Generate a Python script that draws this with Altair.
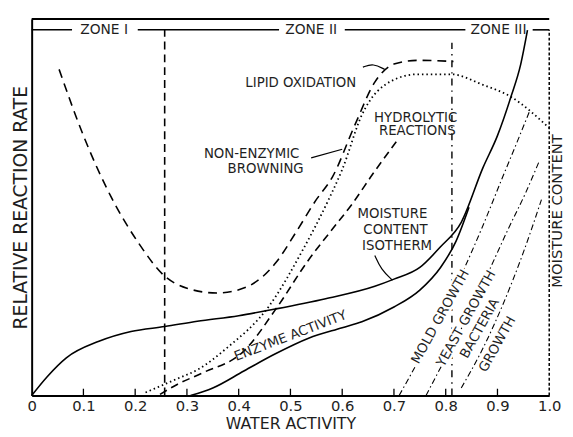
import altair as alt
import pandas as pd

# ---------------- data ----------------
lipid_x = [0.053, 0.10, 0.154, 0.206, 0.257, 0.30, 0.358, 0.415, 0.472, 0.51, 0.549, 0.581, 0.625, 0.663, 0.70, 0.745, 0.815]
lipid_y = [0.866, 0.69, 0.526, 0.406, 0.317, 0.285, 0.272, 0.288, 0.353, 0.432, 0.518, 0.58, 0.72, 0.832, 0.88, 0.89, 0.887]

brown_x = [0.22, 0.282, 0.32, 0.377, 0.459, 0.524, 0.573, 0.60, 0.638, 0.695, 0.745, 0.81, 0.872, 0.926, 1.0]
brown_y = [0.008, 0.045, 0.068, 0.126, 0.238, 0.387, 0.518, 0.60, 0.745, 0.835, 0.853, 0.853, 0.825, 0.793, 0.71]

hydro_x = [0.248, 0.282, 0.33, 0.41, 0.472, 0.535, 0.58, 0.62, 0.66, 0.705]
hydro_y = [0.003, 0.03, 0.06, 0.118, 0.23, 0.36, 0.44, 0.51, 0.59, 0.675]

iso_x = [0.0, 0.03, 0.067, 0.13, 0.192, 0.257, 0.32, 0.40, 0.472, 0.568, 0.663, 0.70, 0.75, 0.79, 0.83, 0.872, 0.90, 0.926, 0.945, 0.958]
iso_y = [0.0, 0.05, 0.10, 0.144, 0.17, 0.183, 0.197, 0.212, 0.23, 0.257, 0.29, 0.309, 0.34, 0.395, 0.46, 0.605, 0.69, 0.793, 0.88, 0.97]

enz_x = [0.307, 0.35, 0.41, 0.47, 0.535, 0.60, 0.638, 0.70, 0.75, 0.79, 0.82, 0.845]
enz_y = [0.0, 0.02, 0.065, 0.11, 0.152, 0.18, 0.196, 0.235, 0.28, 0.34, 0.41, 0.50]

mold_x = [0.71, 0.75, 0.79, 0.83, 0.87, 0.91, 0.94, 0.962]
mold_y = [0.0, 0.10, 0.209, 0.32, 0.445, 0.58, 0.68, 0.755]
yeast_x = [0.762, 0.80, 0.84, 0.88, 0.92, 0.955, 0.98]
yeast_y = [0.0, 0.10, 0.204, 0.32, 0.44, 0.54, 0.62]
bact_x = [0.83, 0.87, 0.91, 0.95, 0.985]
bact_y = [0.02, 0.12, 0.24, 0.38, 0.52]

# leader lines
lead_lipid_x = [0.64, 0.66, 0.682]
lead_lipid_y = [0.872, 0.882, 0.866]
lead_brown_x = [0.54, 0.60]
lead_brown_y = [0.631, 0.654]
lead_iso_x = [0.663, 0.675, 0.697]
lead_iso_y = [0.372, 0.335, 0.306]

# zone structure
zone_lines = [0.257, 0.812]
zone_line_top = [0.971, 0.937]
header_y = 0.971
header_seg_start = [0.0, 0.205, 0.605, 0.968]
header_seg_end = [0.078, 0.478, 0.838, 1.0]
zone_labels = ["ZONE I", "ZONE II", "ZONE III"]
zone_label_x = [0.14, 0.54, 0.902]

tick_values = [0.1, 0.2, 0.3, 0.4, 0.5, 0.6, 0.7, 0.8, 0.9]

labels = ["LIPID OXIDATION", "HYDROLYTIC", "REACTIONS", "NON-ENZYMIC", "BROWNING",
          "MOISTURE", "CONTENT", "ISOTHERM", "ENZYME ACTIVITY"]
label_x = [0.52, 0.742, 0.745, 0.425, 0.452, 0.697, 0.703, 0.706, 0.50]
label_y = [0.83, 0.738, 0.702, 0.641, 0.602, 0.482, 0.44, 0.398, 0.158]
label_angle = [0, 0, 0, 0, 0, 0, 0, 0, 339]

growth_labels = ["MOLD GROWTH", "YEAST GROWTH", "BACTERIA", "GROWTH"]
growth_x = [0.79, 0.84, 0.866, 0.90]
growth_y = [0.209, 0.204, 0.178, 0.136]

# ---------------- build tables ----------------
def curve(name, xs, ys):
    return pd.DataFrame({"series": name, "x": xs, "y": ys, "o": range(len(xs))})

curves = pd.concat([
    curve("lipid", lipid_x, lipid_y),
    curve("brown", brown_x, brown_y),
    curve("hydro", hydro_x, hydro_y),
    curve("iso", iso_x, iso_y),
    curve("enz", enz_x, enz_y),
    curve("mold", mold_x, mold_y),
    curve("yeast", yeast_x, yeast_y),
    curve("bact", bact_x, bact_y),
    curve("l1", lead_lipid_x, lead_lipid_y),
    curve("l2", lead_brown_x, lead_brown_y),
    curve("l3", lead_iso_x, lead_iso_y),
])

FONT = "DejaVu Sans"
INK = "#1e1e1e"

X = alt.X("x:Q", scale=alt.Scale(domain=[0, 1], nice=False, zero=False),
          axis=alt.Axis(values=[0, 0.1, 0.2, 0.3, 0.4, 0.5, 0.6, 0.7, 0.8, 0.9, 1.0],
                        labelExpr="datum.value == 0 ? '0' : format(datum.value, '.1f')",
                        ticks=False, grid=False, domainColor="black", domainWidth=2,
                        labelFont=FONT, labelFontSize=15, labelColor=INK,
                        labelPadding=3, title="WATER ACTIVITY", titleFont=FONT,
                        titleFontSize=16, titleFontWeight="normal", titleColor=INK,
                        titlePadding=2, labelFlush=False))
Y = alt.Y("y:Q", scale=alt.Scale(domain=[0, 1], nice=False, zero=False),
          axis=alt.Axis(labels=False, ticks=False, grid=False, domainColor="black",
                        domainWidth=2, title="RELATIVE REACTION RATE",
                        titleFont=FONT, titleFontSize=19,
                        titleFontWeight="normal", titleColor=INK, titlePadding=1))

base = alt.Chart(curves)

def line(series, dash, width=1.6, interp="monotone"):
    props = dict(color="black", strokeWidth=width, interpolate=interp)
    if dash:
        props["strokeDash"] = dash
    return base.transform_filter(alt.datum.series == series).mark_line(**props).encode(
        x=X, y=Y, order="o:Q")

growth_dash = [6, 3, 1.5, 3]
layers = [
    line("lipid", [9, 6]),
    line("brown", [1.5, 3], width=1.8),
    line("hydro", [8, 5]),
    line("iso", None),
    line("enz", None),
    line("mold", growth_dash, width=1.1),
    line("yeast", growth_dash, width=1.1),
    line("bact", growth_dash, width=1.1),
    line("l1", None, width=1.2, interp="basis"),
    line("l2", None, width=1.2, interp="linear"),
    line("l3", None, width=1.2, interp="basis"),
]

# frame: top border and right dashed border
top_df = pd.DataFrame({"x": [0.0], "x2": [1.0], "y": [1.0]})
top = alt.Chart(top_df).mark_rule(color="black", strokeWidth=2).encode(
    x="x:Q", x2="x2:Q", y="y:Q")
right_df = pd.DataFrame({"x": [1.0], "y": [0.0], "y2": [header_y]})
right = alt.Chart(right_df).mark_rule(color="black", strokeWidth=1.5, strokeDash=[3, 2]).encode(
    x="x:Q", y="y:Q", y2="y2:Q")

# zone lines
zl1 = alt.Chart(pd.DataFrame({"x": [zone_lines[0]], "y": [0.0], "y2": [zone_line_top[0]]})).mark_rule(
    color="black", strokeWidth=1.6, strokeDash=[8, 5]).encode(x="x:Q", y="y:Q", y2="y2:Q")
zl2 = alt.Chart(pd.DataFrame({"x": [zone_lines[1]], "y": [0.0], "y2": [zone_line_top[1]]})).mark_rule(
    color="black", strokeWidth=1.4, strokeDash=[7, 5, 1.5, 5]).encode(x="x:Q", y="y:Q", y2="y2:Q")

hs_df = pd.DataFrame({"x": header_seg_start, "x2": header_seg_end, "y": [header_y] * 4})
hs = alt.Chart(hs_df).mark_rule(color="black", strokeWidth=1.6).encode(
    x="x:Q", x2="x2:Q", y="y:Q")

zt_df = pd.DataFrame({"t": zone_labels, "x": zone_label_x, "y": [header_y] * 3})
zt = alt.Chart(zt_df).mark_text(font=FONT, fontSize=14, color=INK,
                                baseline="middle", align="center").encode(
    x="x:Q", y="y:Q", text="t:N")

# inward ticks on the x axis
tk_df = pd.DataFrame({"x": tick_values, "y": [0.0] * len(tick_values), "y2": [0.018] * len(tick_values)})
tk = alt.Chart(tk_df).mark_rule(color="black", strokeWidth=1.3).encode(
    x="x:Q", y="y:Q", y2="y2:Q")

# curve labels
lab_df = pd.DataFrame({"t": labels, "x": label_x, "y": label_y, "a": label_angle})
lab = alt.Chart(lab_df).mark_text(font=FONT, fontSize=13.5, color=INK,
                                  baseline="middle", align="center").encode(
    x="x:Q", y="y:Q", text="t:N", angle=alt.Angle("a:Q", scale=None))

# growth labels sit in gaps of their lines
g_df = pd.DataFrame({"t": growth_labels, "x": growth_x, "y": growth_y})
g_halo = alt.Chart(g_df).mark_text(font=FONT, fontSize=13.5, color="white", stroke="white",
                                   strokeWidth=5, baseline="middle", align="center",
                                   angle=299).encode(x="x:Q", y="y:Q", text="t:N")
g_text = alt.Chart(g_df).mark_text(font=FONT, fontSize=13.5, color=INK,
                                   baseline="middle", align="center",
                                   angle=299).encode(x="x:Q", y="y:Q", text="t:N")

# right side title
rt_df = pd.DataFrame({"t": ["MOISTURE CONTENT"], "x": [1.0155], "y": [0.49]})
rt = alt.Chart(rt_df).mark_text(font=FONT, fontSize=15, color=INK,
                                baseline="middle", align="center", angle=270).encode(
    x="x:Q", y="y:Q", text="t:N")

chart = alt.layer(*layers, top, right, zl1, zl2, hs, zt, tk, lab, g_halo, g_text, rt).properties(
    width=525, height=382,
    padding={"left": 24, "top": 8, "right": 16, "bottom": 37},
    autosize=alt.AutoSizeParams(type="none"),
    background="white",
).configure_view(stroke=None)

chart.save("out.html", embed_options={"renderer": "svg", "actions": False})
